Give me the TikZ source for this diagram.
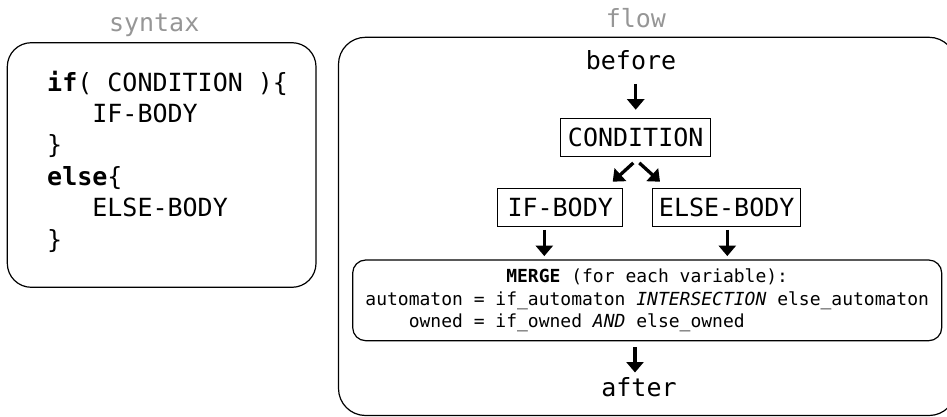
\documentclass[tikz,border=0pt]{standalone}
\usepackage{fontspec}
\setmainfont{DejaVu Sans Mono}
\usetikzlibrary{arrows.meta}
\definecolor{titlegray}{RGB}{150,150,150}
\frenchspacing
\begin{document}
\begin{tikzpicture}[x=1pt,y=-1pt,
  txt/.style={inner sep=0pt, font=\fontsize{25}{30}\selectfont},
  title/.style={txt, text=titlegray, anchor=base},
  codeline/.style={txt, anchor=base west},
  stepbox/.style={draw, line width=1.2pt, inner sep=0pt, minimum height=38.4pt,
                  font=\fontsize{25}{30}\selectfont},
  panel/.style={draw, line width=1.2pt},
  arr/.style={line width=3.3pt, -{Triangle[length=10.5pt,width=17pt]}}]

\useasboundingbox (0,0) rectangle (947,417);

% panels
\draw[panel, rounded corners=24pt] (7.3,42.7) rectangle (316,287.3);
\begin{scope}
  \clip (0,0) rectangle (947,417);
  \draw[panel, rounded corners=27pt] (338.5,37.3) rectangle (956,415.5);
\end{scope}

% panel titles
\node[title] (syntaxlbl) at (154.2,31.5) {syntax};
\node[title] (flowlbl) at (635.9,27.5) {flow};

% source code
\node[codeline] (c1) at (47,91.7) {\textbf{if}( CONDITION )\{};
\node[codeline] (c2) at (47,122) {\phantom{000}IF-BODY};
\node[codeline] (c3) at (47,153.3) {\}};
\node[codeline] (c4) at (47,185) {\textbf{else}\{};
\node[codeline] (c5) at (47,216.7) {\phantom{000}ELSE-BODY};
\node[codeline] (c6) at (47,248) {\}};

% control flow
\node[txt, anchor=base] (before) at (631,70) {before};
\node[stepbox, minimum width=150pt] (cond) at (635.7,137.5) {CONDITION};
\node[stepbox, minimum width=125pt] (ifb) at (560.2,207.5) {IF-BODY};
\node[stepbox, minimum width=148pt] (elseb) at (726.7,207.5) {ELSE-BODY};
\node[draw, line width=1.2pt, rounded corners=13pt, minimum width=589pt,
      minimum height=80.7pt, inner sep=0pt, align=left,
      font=\fontsize{18}{22.5}\selectfont] (merge) at (647.2,300.35)
  {\phantom{0000000000000}\textbf{MERGE} (for each variable):\\
   automaton = if\_automaton \textit{INTERSECTION} else\_automaton\\
   \phantom{0000}owned = if\_owned \textit{AND} else\_owned};
\node[txt, anchor=base] (after) at (639,396.7) {after};

% arrows
\draw[arr, shorten <=13.3pt, shorten >=8pt] (before.south -| cond.north) -- (cond.north);
\coordinate (forkL) at ([xshift=-2.4pt,yshift=-5.6pt]cond.south);
\coordinate (forkR) at ([xshift=3.6pt,yshift=-5.6pt]cond.south);
\draw[arr] (forkL) -- ([xshift=52.5pt,yshift=6pt]ifb.north);
\draw[arr] (forkR) -- ([xshift=-66.7pt,yshift=6pt]elseb.north);
\draw[arr, shorten <=2.6pt, shorten >=3.3pt]
  ([xshift=-15.9pt]ifb.south) -- ([xshift=-15.9pt]ifb.south |- merge.north);
\draw[arr, shorten <=2.6pt, shorten >=3.3pt]
  ([xshift=0.6pt]elseb.south) -- ([xshift=0.6pt]elseb.south |- merge.north);
\draw[arr, shorten <=6pt, shorten >=5pt]
  ([xshift=-4pt]after.north |- merge.south) -- ([xshift=-4pt]after.north);
\end{tikzpicture}
\end{document}
